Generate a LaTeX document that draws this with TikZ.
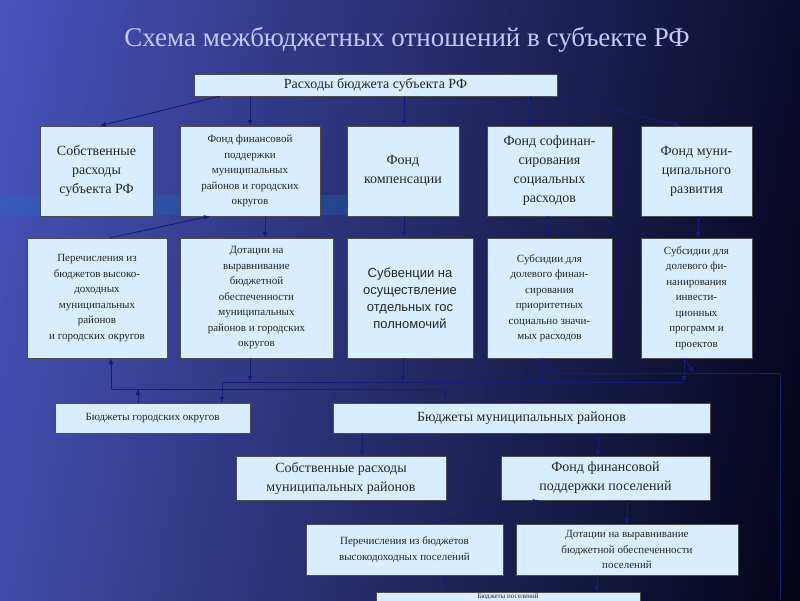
\documentclass[tikz,border=0pt]{standalone}
\usepackage{fontspec}
\setmainfont{Liberation Serif}
\newfontfamily\arialf{Liberation Sans}
\usetikzlibrary{arrows.meta}
\definecolor{boxfill}{RGB}{216,238,255}
\definecolor{arr}{RGB}{20,30,120}
\definecolor{ttl}{RGB}{200,200,255}
\begin{document}
\begin{tikzpicture}[x=1pt,y=-1pt,
  box/.style={draw=black!70,fill=boxfill,line width=0.5pt,align=center,inner sep=1pt,text=black!85},
  big/.style={font=\fontsize{14}{19}\selectfont},
  sml/.style={font=\fontsize{11}{15.5}\selectfont},
  con/.style={draw=arr,line width=0.9pt},
  ar/.style={con,-{Latex[length=6pt,width=5pt]}}]
\useasboundingbox (0,0) rectangle (800,600);
\shade[left color={rgb,255:red,100;green,120;blue,240}, right color=black] (0,0) rectangle (800,600);
\shade[top color={rgb,255:red,30;green,30;blue,110},bottom color={rgb,255:red,10;green,10;blue,60},opacity=0.4] (0,0) rectangle (800,600);
\fill[cyan!60!blue,opacity=0.25] (0,195) rectangle (460,215);
\node[text=ttl,font=\fontsize{27}{30}\selectfont] (title) at (407,40) {Схема межбюджетных отношений в субъекте РФ};
\node[box,big,minimum width=363,minimum height=22] (top) at (375.5,85) {Расходы бюджета субъекта РФ};
\node[box,big,minimum width=113,minimum height=90] (A) at (96.5,171) {Собственные\\расходы\\субъекта РФ};
\node[box,sml,minimum width=140,minimum height=90] (B) at (250,171) {Фонд финансовой\\поддержки\\муниципальных\\районов и городских\\округов};
\node[box,big,minimum width=112,minimum height=90] (C) at (403,171) {Фонд\\компенсации};
\node[box,big,minimum width=125,minimum height=90] (D) at (549.5,171) {Фонд софинан-\\сирования\\социальных\\расходов};
\node[box,big,minimum width=111,minimum height=90] (E) at (696.5,171) {Фонд муни-\\ципального\\развития};
\node[box,sml,minimum width=140,minimum height=120] (F) at (97,298) {Перечисления из\\бюджетов высоко-\\доходных\\муниципальных\\районов\\и городских округов};
\node[box,sml,minimum width=153,minimum height=120] (G) at (256.5,298) {Дотации на\\выравнивание\\бюджетной\\обеспеченности\\муниципальных\\районов и городских\\округов};
\node[box,font=\arialf\fontsize{13}{17}\selectfont,minimum width=126,minimum height=120] (H) at (410,298) {Субвенции на\\осуществление\\отдельных гос\\полномочий};
\node[box,sml,minimum width=125,minimum height=120] (I) at (549.5,298) {Субсидии для\\долевого финан-\\сирования\\приоритетных\\социально значи-\\мых расходов};
\node[box,sml,minimum width=111,minimum height=120] (J) at (696.5,298) {Субсидии для\\долевого фи-\\нанирования\\инвести-\\ционных\\программ и\\проектов};
\node[box,sml,minimum width=195,minimum height=30] (K) at (152.5,418) {Бюджеты городских округов};
\node[box,big,minimum width=377,minimum height=30] (L) at (521.5,418) {Бюджеты муниципальных районов};
\node[box,big,minimum width=210,minimum height=44] (M) at (341,478) {Собственные расходы\\муниципальных районов};
\node[box,big,minimum width=209,minimum height=44] (N) at (605.5,478) {Фонд финансовой\\поддержки поселений};
\node[box,sml,minimum width=197,minimum height=51] (O) at (404.5,549.5) {Перечисления из бюджетов\\высокодоходных поселений};
\node[box,sml,minimum width=222,minimum height=51] (P) at (627,549.5) {Дотации на выравнивание\\бюджетной обеспеченности\\поселений};
\node[box,font=\fontsize{7}{7}\selectfont,minimum width=264,minimum height=10,inner sep=0.5pt,anchor=north] (Q) at (508,592) {Бюджеты поселений};
% top to row 1
\draw[ar] (220,0 |- top.south) -- (100,0 |- A.north);
\draw[ar] (250,0 |- top.south) -- (250,0 |- B.north);
\draw[ar] (404,0 |- top.south) -- (404,0 |- C.north);
\draw[ar] (530,0 |- top.south) -- (530,0 |- D.north);
\draw[ar] (560,0 |- top.south) -- (680,0 |- E.north);
% row1 to row2
\draw[ar] (265,0 |- B.south) -- (265,0 |- G.north);
\draw[ar] (404,0 |- C.south) -- (404,0 |- H.north);
\draw[ar] (548,0 |- D.south) -- (548,0 |- I.north);
\draw[ar] (698,0 |- E.south) -- (698,0 |- J.north);
\draw[ar] (110,0 |- F.north) -- (210,0 |- B.south);
% row2 to row3
\coordinate (h1) at (222,382);
\coordinate (h2) at (684,382);
\draw[con] (h1) -- (h2);
\draw[ar] (250,0 |- G.south) -- (250,382);
\draw[ar] (403,0 |- H.south) -- (403,382);
\draw[ar] (542,0 |- I.south) -- (542,382);
\draw[ar] (684,0 |- J.south) -- (h2);
\draw[ar] (h1) -- (222,0 |- K.north);
\draw[ar] (487,382) -- (487,0 |- L.north);
\draw[ar] (445,0 |- L.north) -- (445,389);
\draw[ar] (138,0 |- K.north) -- (138,389);
\draw[ar] (445,389) -- (111,389) -- (111,0 |- F.south);
\coordinate (r1) at (553,373);
\coordinate (r2) at (694,373);
\coordinate (r3) at (780,373);
\coordinate (r4) at (780,600);
\draw[ar] (542,0 |- I.south) -- (r1);
\draw[ar] (684,0 |- J.south) -- (r2);
\draw[con] (r1) -- (r3) -- (r4);
% row3 to row4
\draw[ar] (362,0 |- L.south) -- (362,0 |- M.north);
\draw[ar] (598,0 |- L.south) -- (598,0 |- N.north);
% row4 to row5
\draw[ar] (432,0 |- O.north) -- (539,0 |- N.south);
\draw[ar] (627,0 |- N.south) -- (627,0 |- P.north);
\draw[ar] (445,0 |- Q.north) -- (445,0 |- O.south);
\draw[ar] (597,0 |- P.south) -- (597,0 |- Q.north);
\end{tikzpicture}
\end{document}
